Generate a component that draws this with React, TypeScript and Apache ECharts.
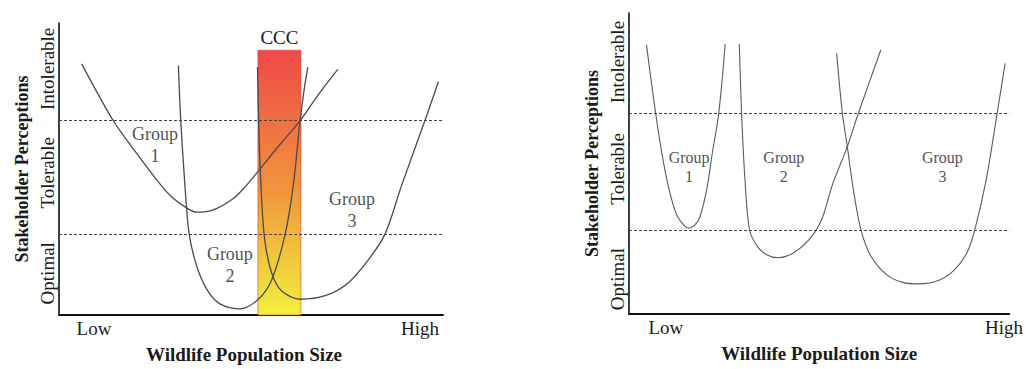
import React, { useEffect, useRef } from "react";
import * as echarts from "echarts";

// ---- axis labels ----
const yTickLabels = ["Optimal", "Tolerable", "Intolerable"];
const leftYTickValues = [14.3, 48.7, 84.3];
const rightYTickValues = [11.6, 48.2, 83.7];
const xTickLabels = ["Low", "High"];
const leftXTickValues = [9.1, 94.0];
const rightXTickValues = [9.7, 98.6];
const xAxisName = "Wildlife Population Size";
const yAxisName = "Stakeholder Perceptions";

// ---- thresholds (dashed lines) ----
const leftThresholds = [27.7, 66.6];
const rightThresholds = [27.9, 66.7];

// ---- CCC band (left panel) ----
const cccName = "CCC";
const cccFrom = 51.8;
const cccTo = 63.0;
const cccTop = 90.7;

// ---- left panel curves ----
const leftGroup1 = [
  [5.9, 86.0], [14.1, 66.6], [20.2, 55.4], [24.6, 47.7], [28.9, 41.0], [33.3, 36.6],
  [35.9, 35.2], [40.2, 36.0], [45.4, 39.9], [48.4, 43.8], [51.9, 49.3], [57.1, 57.7],
  [62.8, 66.6], [67.5, 75.4], [72.6, 84.1],
];
const leftGroup2 = [
  [31.1, 85.4], [31.7, 66.6], [32.8, 44.3], [33.9, 27.7], [35.9, 16.6], [38.5, 8.8],
  [41.9, 3.8], [47.1, 2.1], [51.9, 5.4], [55.4, 12.1], [58.9, 27.7], [61.0, 44.3],
  [62.8, 66.6], [63.9, 77.7], [64.8, 84.9],
];
const leftGroup3 = [
  [51.7, 84.9], [52.1, 61.0], [52.8, 38.8], [53.6, 25.4], [55.4, 14.3], [58.0, 8.2],
  [62.8, 5.4], [69.3, 6.6], [75.3, 11.0], [80.5, 18.8], [84.9, 27.7], [89.2, 44.3],
  [95.3, 66.6], [98.8, 79.9],
];

// ---- right panel curves ----
const rightGroup1 = [
  [4.6, 89.4], [7.0, 66.7], [9.1, 50.1], [10.8, 40.1], [12.8, 32.3], [15.8, 28.5],
  [18.3, 31.2], [20.4, 41.2], [21.9, 53.4], [23.6, 66.7], [25.3, 89.7],
];
const rightGroup2 = [
  [29.0, 89.7], [29.6, 66.7], [30.5, 44.5], [31.7, 27.9], [33.8, 22.4], [36.3, 19.6],
  [39.3, 18.7], [43.1, 20.2], [47.3, 24.6], [50.6, 31.2], [53.6, 43.4], [57.4, 55.6],
  [60.3, 66.7], [66.2, 87.7],
];
const rightGroup3 = [
  [54.6, 86.6], [56.1, 66.7], [57.4, 55.6], [59.0, 41.2], [61.0, 27.9], [63.7, 19.0],
  [67.8, 13.0], [72.0, 10.5], [76.2, 10.0], [81.3, 11.1], [85.5, 14.6], [88.8, 20.2],
  [90.9, 27.9], [93.9, 44.5], [96.8, 66.7], [98.9, 83.3],
];

// ---- group labels ----
const groupNames = ["Group\n1", "Group\n2", "Group\n3"];
const leftGroupLabelPos = [[25.0, 58.3], [44.5, 17.0], [76.3, 36.0]];
const rightGroupLabelPos = [[15.8, 48.8], [40.7, 48.8], [82.4, 48.8]];

const FONT = "'Liberation Serif', 'Times New Roman', serif";
const TEXT = "#1a1a1a";

function pickLabel(values: number[], labels: string[]) {
  return (v: number) => {
    for (let i = 0; i < values.length; i++) {
      if (Math.abs(values[i] - v) < 1e-6) return labels[i];
    }
    return "";
  };
}

function makeAxes(idx: number, xVals: number[], yVals: number[], xNamePad: number) {
  const xAxis = {
    type: "value",
    gridIndex: idx,
    min: 0,
    max: 100,
    name: xAxisName,
    nameLocation: "middle",
    nameGap: 30,
    nameTextStyle: {
      fontFamily: FONT,
      fontWeight: "bold",
      fontSize: 19,
      color: TEXT,
      padding: [0, xNamePad, 0, 0],
    },
    axisLine: { show: true, lineStyle: { color: "#111", width: 2 } },
    axisTick: { show: false },
    splitLine: { show: false },
    axisLabel: {
      customValues: xVals,
      formatter: pickLabel(xVals, xTickLabels),
      fontFamily: FONT,
      fontSize: 19,
      color: TEXT,
      margin: 4,
    },
  };
  const yAxis = {
    type: "value",
    gridIndex: idx,
    min: 0,
    max: 100,
    name: yAxisName,
    nameLocation: "middle",
    nameRotate: 90,
    nameGap: 28,
    nameTextStyle: {
      fontFamily: FONT,
      fontWeight: "bold",
      fontSize: 18,
      color: TEXT,
    },
    axisLine: { show: true, lineStyle: { color: "#111", width: 1.6 } },
    axisTick: { show: false },
    splitLine: { show: false },
    axisLabel: {
      customValues: yVals,
      formatter: pickLabel(yVals, yTickLabels),
      rotate: 90,
      fontFamily: FONT,
      fontSize: 19,
      color: TEXT,
      margin: 2,
    },
  };
  return { xAxis, yAxis };
}

function curve(data: number[][], idx: number, color: string, width: number) {
  return {
    type: "line",
    xAxisIndex: idx,
    yAxisIndex: idx,
    data,
    smooth: 0.3,
    showSymbol: false,
    symbol: "none",
    lineStyle: { color, width },
    silent: true,
    z: 3,
  };
}

function thresholdSeries(idx: number, thresholds: number[], extra: any = {}) {
  return {
    type: "line",
    xAxisIndex: idx,
    yAxisIndex: idx,
    data: [],
    silent: true,
    z: 1,
    markLine: {
      silent: true,
      symbol: "none",
      label: { show: false },
      lineStyle: { type: [3, 2], color: "#444", width: 1 },
      data: thresholds.map((t) => ({ yAxis: t })),
    },
    ...extra,
  };
}

function labelSeries(idx: number, pos: number[][], size: number, lh: number) {
  return {
    type: "scatter",
    xAxisIndex: idx,
    yAxisIndex: idx,
    symbolSize: 0,
    silent: true,
    data: pos.map((p, i) => ({ name: groupNames[i], value: p })),
    label: {
      show: true,
      position: "inside",
      formatter: (p: any) => p.name,
      fontFamily: FONT,
      fontSize: size,
      lineHeight: lh,
      color: "#222",
      textBorderWidth: 0,
      align: "center",
    },
    z: 4,
  };
}

export default function App() {
  const ref = useRef<HTMLDivElement>(null);
  useEffect(() => {
    if (!ref.current) return;
    const chart = echarts.init(ref.current, undefined, { renderer: "svg" });
    const a0 = makeAxes(0, leftXTickValues, leftYTickValues, 14);
    const a1 = makeAxes(1, rightXTickValues, rightYTickValues, 0);
    const cccGradient = new echarts.graphic.LinearGradient(0, 0, 0, 1, [
      { offset: 0, color: "#F04A48" },
      { offset: 0.5, color: "#F0903E" },
      { offset: 1, color: "#F2F03C" },
    ]);
    chart.setOption({
      animation: false,
      backgroundColor: "#ffffff",
      grid: [
        { left: 59, top: 23, width: 384, height: 299 },
        { left: 629, top: 13, width: 397, height: 301 },
      ],
      xAxis: [a0.xAxis, a1.xAxis],
      yAxis: [a0.yAxis, a1.yAxis],
      series: [
        thresholdSeries(0, leftThresholds, {
          markArea: {
            silent: true,
            itemStyle: {
              color: cccGradient,
              opacity: 1,
              borderColor: "#d84040",
              borderWidth: 0.6,
            },
            label: {
              show: true,
              position: "top",
              distance: 3,
              fontFamily: FONT,
              fontSize: 19,
              color: TEXT,
            },
            data: [[{ name: cccName, coord: [cccFrom, cccTop] }, { coord: [cccTo, 0] }]],
          },
        }),
        thresholdSeries(1, rightThresholds),
        curve(leftGroup1, 0, "#4a4a4a", 1.3),
        curve(leftGroup2, 0, "#4a4a4a", 1.3),
        curve(leftGroup3, 0, "#4a4a4a", 1.3),
        curve(rightGroup1, 1, "#5a5a5a", 1.1),
        curve(rightGroup2, 1, "#5a5a5a", 1.1),
        curve(rightGroup3, 1, "#5a5a5a", 1.1),
        labelSeries(0, leftGroupLabelPos, 18, 22),
        labelSeries(1, rightGroupLabelPos, 16, 19),
      ],
    });
    return () => chart.dispose();
  }, []);
  return (
    <div
      ref={ref}
      style={{ position: "fixed", left: 0, top: 0, width: 1026, height: 369, background: "#fff" }}
    />
  );
}
